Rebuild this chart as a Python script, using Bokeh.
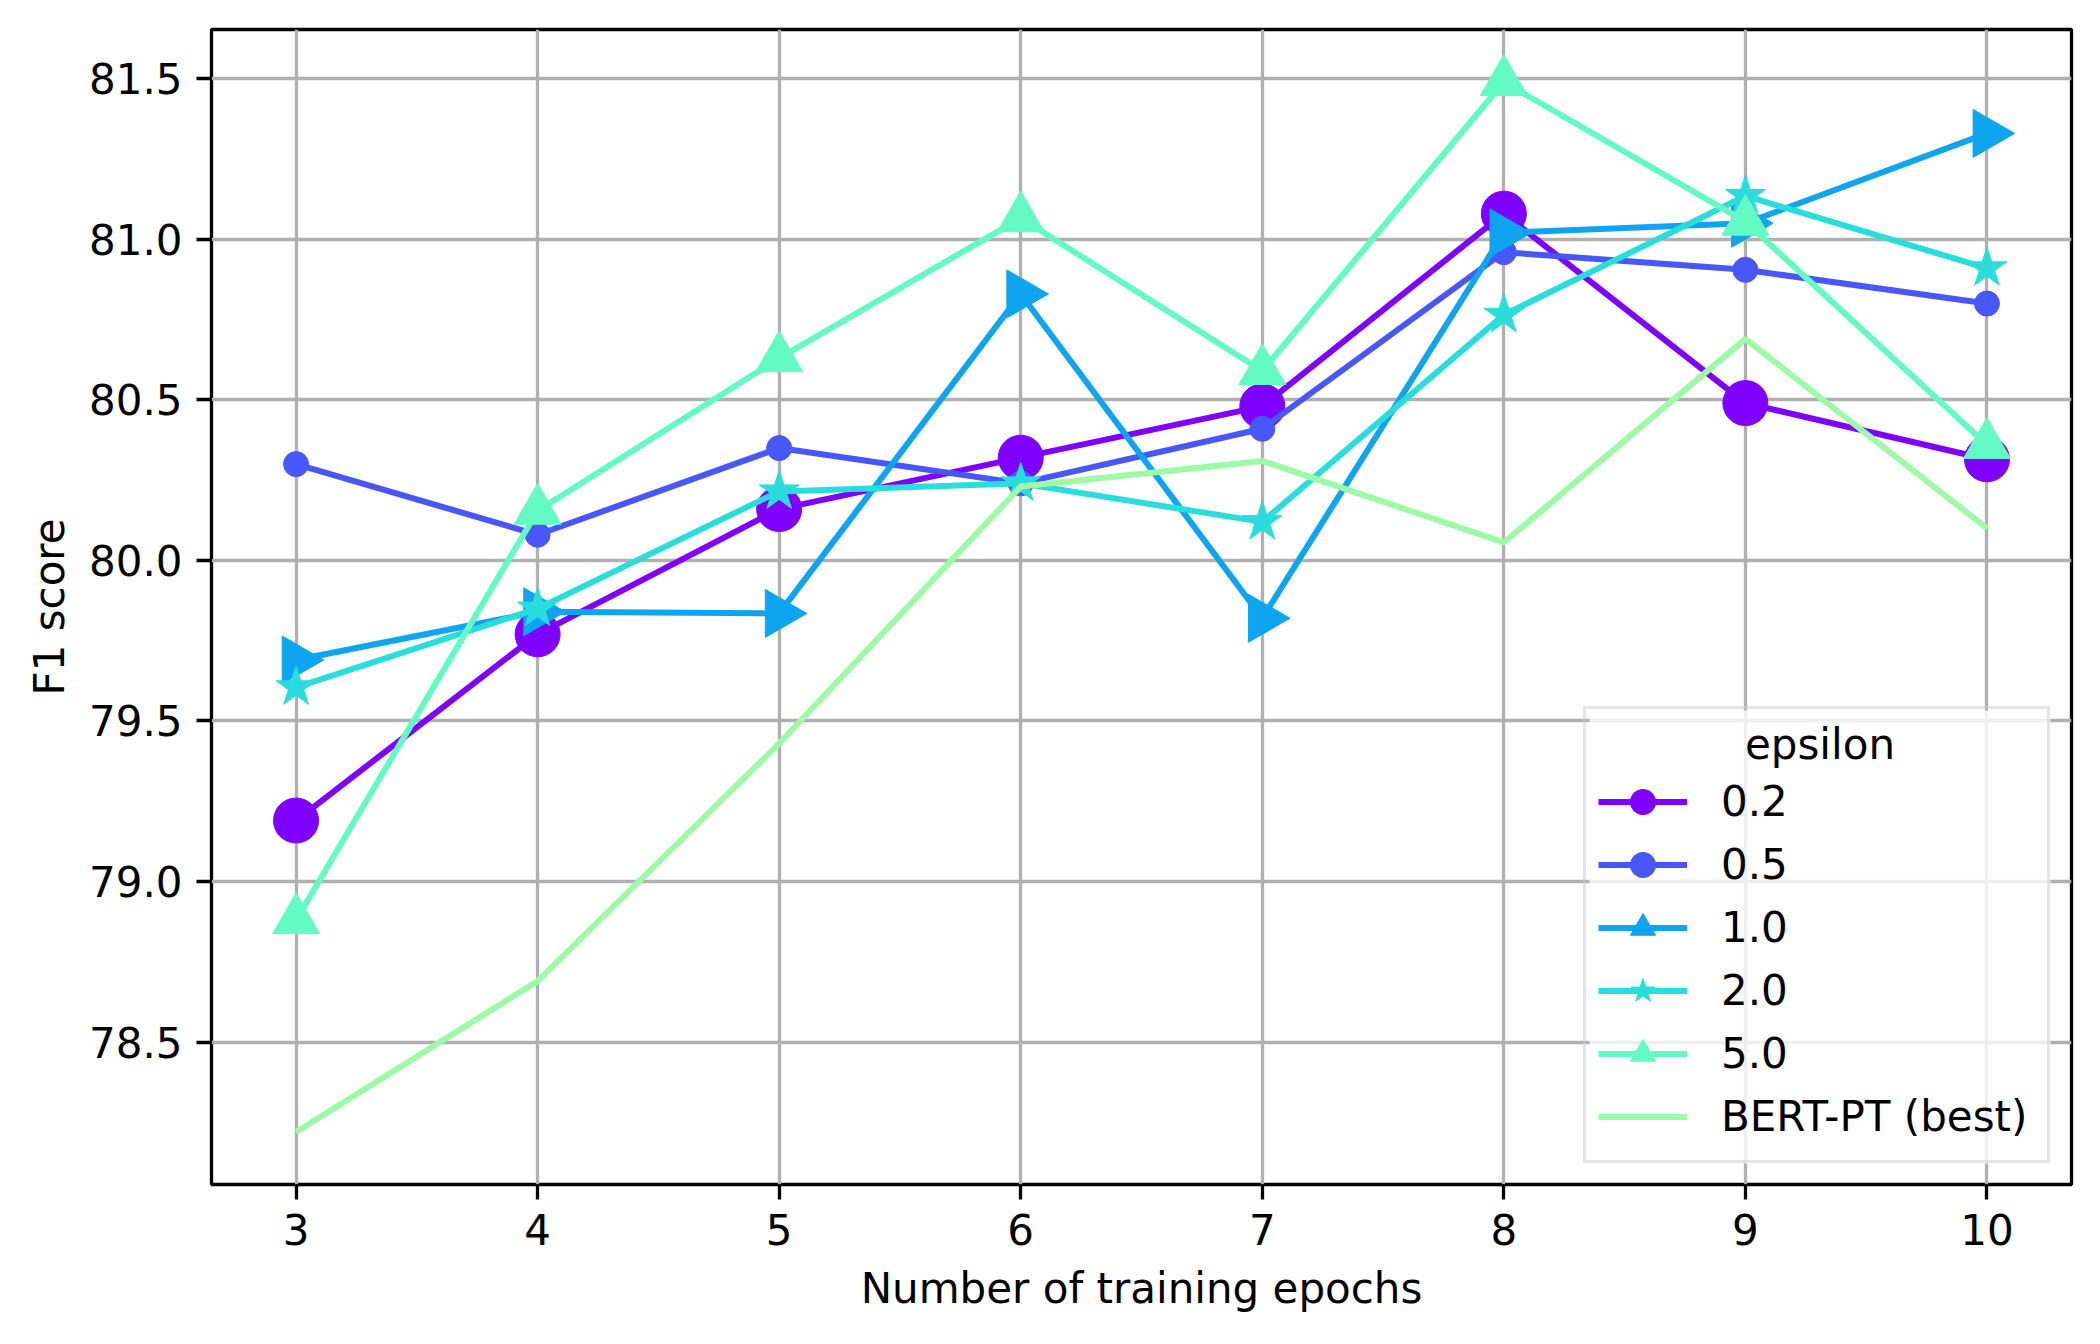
import math
from bokeh.plotting import figure
from bokeh.models import (Range1d, FixedTicker, PrintfTickFormatter, Legend, LegendItem,
                          Label, BoxAnnotation)
from bokeh.embed import file_html
from bokeh.resources import INLINE

# ---- data ----
epochs = [3, 4, 5, 6, 7, 8, 9, 10]
series_labels = ["0.2", "0.5", "1.0", "2.0", "5.0", "BERT-PT (best)"]
legend_title = "epsilon"
f1_eps_0_2 = [79.19, 79.77, 80.16, 80.32, 80.48, 81.08, 80.49, 80.315]
f1_eps_0_5 = [80.30, 80.08, 80.35, 80.24, 80.41, 80.96, 80.905, 80.80]
f1_eps_1_0 = [79.69, 79.84, 79.835, 80.83, 79.82, 81.02, 81.05, 81.33]
f1_eps_2_0 = [79.605, 79.85, 80.215, 80.24, 80.12, 80.765, 81.135, 80.91]
f1_eps_5_0 = [78.88, 80.155, 80.63, 81.066, 80.59, 81.49, 81.055, 80.36]
f1_bert_pt_best = [78.22, 78.69, 79.43, 80.23, 80.31, 80.056, 80.69, 80.10]
y_ticks = [78.5, 79.0, 79.5, 80.0, 80.5, 81.0, 81.5]

all_series = [f1_eps_0_2, f1_eps_0_5, f1_eps_1_0, f1_eps_2_0, f1_eps_5_0, f1_bert_pt_best]

# ---- styles ----
colors = ["#8000ff", "#4757fb", "#0ea4f0", "#2adddd", "#63fbc3", "#9cfba4"]
markers = [("circle", 45, 0.0), ("circle", 25, 0.0), ("triangle", 48, -math.pi / 2),
           ("star", 42, 0.0), ("triangle", 47, 0.0), None]
FONT = "DejaVu Sans"
FS = "42px"

# layout (px)
W, H = 2092, 1336
BL, BR, BT, BB = 211, 21, 29, 152
FW, FH = W - BL - BR, H - BT - BB
LEG_MARGIN, LEG_PAD = 21, 12
GLYPH_W, GLYPH_H, LABEL_W, STANDOFF = 89, 63, 314, 34
TITLE_H = 51
LEG_W = 2 * LEG_PAD + GLYPH_W + STANDOFF + LABEL_W
LEG_H = 2 * LEG_PAD + TITLE_H + GLYPH_H * len(series_labels)

lo = min(min(s) for s in all_series)
hi = max(max(s) for s in all_series)
pad = 0.05 * (hi - lo)
xpad = 0.05 * (max(epochs) - min(epochs))

p = figure(width=W, height=H, output_backend="svg", toolbar_location=None,
           x_range=Range1d(min(epochs) - xpad, max(epochs) + xpad),
           y_range=Range1d(lo - pad, hi + pad),
           min_border_left=BL, min_border_right=BR, min_border_top=BT, min_border_bottom=BB)

p.background_fill_color = "white"
p.border_fill_color = "white"
p.outline_line_color = "black"
p.outline_line_width = 3.3

p.xgrid.grid_line_color = "#b0b0b0"
p.ygrid.grid_line_color = "#b0b0b0"
p.xgrid.grid_line_width = 3.3
p.ygrid.grid_line_width = 3.3

p.xaxis.ticker = FixedTicker(ticks=epochs)
p.yaxis.ticker = FixedTicker(ticks=y_ticks)
p.yaxis.formatter = PrintfTickFormatter(format="%.1f")
p.xaxis.axis_label = "Number of training epochs"
p.yaxis.axis_label = "F1 score"

for ax in (p.xaxis, p.yaxis):
    ax.axis_line_color = None
    ax.major_tick_in = 0
    ax.major_tick_out = 15
    ax.major_tick_line_width = 3.3
    ax.major_tick_line_color = "black"
    ax.minor_tick_line_color = None
    ax.major_label_text_font = FONT
    ax.major_label_text_font_size = FS
    ax.major_label_text_color = "black"
    ax.major_label_standoff = 14
    ax.axis_label_text_font = FONT
    ax.axis_label_text_font_size = FS
    ax.axis_label_text_font_style = "normal"
    ax.axis_label_text_color = "black"
p.xaxis.axis_label_standoff = 16
p.yaxis.axis_label_standoff = 12

items = []
for label, ys, col, mk in zip(series_labels, all_series, colors, markers):
    rs = []
    rl = p.line(epochs, ys, line_color=col, line_width=6)
    rs.append(rl)
    if mk is not None:
        name, size, ang = mk
        rm = p.scatter(epochs, ys, marker=name, size=size, angle=ang,
                       fill_color=col, line_color=col, line_width=1)
        rs.append(rm)
    items.append(LegendItem(label=label, renderers=rs))

# semi-transparent legend background (frame-relative screen units)
leg_right = FW - LEG_MARGIN
leg_bottom = LEG_MARGIN
leg_bg = BoxAnnotation(left=leg_right - LEG_W, right=leg_right,
                       bottom=leg_bottom, top=leg_bottom + LEG_H,
                       left_units="screen", right_units="screen",
                       bottom_units="screen", top_units="screen",
                       fill_color="white", fill_alpha=0.8, line_color=None)
p.add_layout(leg_bg)

legend = Legend(items=items, location="bottom_right", title=" ",
                margin=LEG_MARGIN, padding=LEG_PAD, spacing=0,
                glyph_width=GLYPH_W, glyph_height=GLYPH_H, label_height=GLYPH_H,
                label_width=LABEL_W, label_standoff=STANDOFF,
                label_text_font=FONT, label_text_font_size=FS, label_text_color="black",
                title_text_font=FONT, title_text_font_size=FS, title_text_font_style="normal",
                title_standoff=0,
                border_line_color="#cccccc", border_line_width=3,
                background_fill_color=None)
p.add_layout(legend)

# centred legend title
title_lbl = Label(x=leg_right - LEG_W / 2, y=leg_bottom + LEG_H - LEG_PAD - TITLE_H / 2 + 4,
                  x_units="screen", y_units="screen", text=legend_title,
                  text_align="center", text_baseline="middle",
                  text_font=FONT, text_font_size=FS, text_color="black")
p.add_layout(title_lbl)

open("out.html", "w").write(file_html(p, INLINE))
